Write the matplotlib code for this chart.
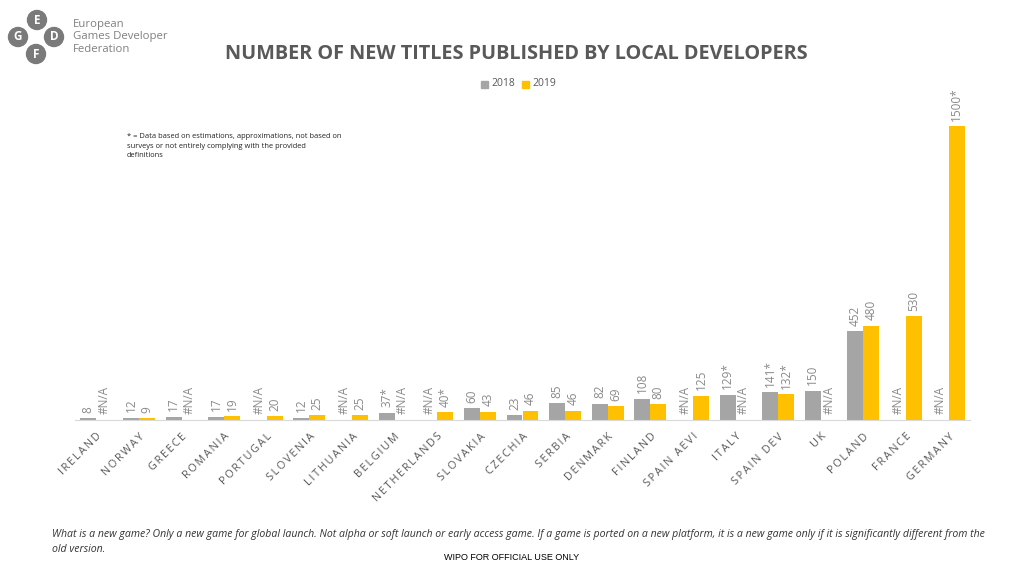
import matplotlib.pyplot as plt
from matplotlib.patches import Circle
import numpy as np

countries = ['IRELAND', 'NORWAY', 'GREECE', 'ROMANIA', 'PORTUGAL', 'SLOVENIA',
             'LITHUANIA', 'BELGIUM', 'NETHERLANDS', 'SLOVAKIA', 'CZECHIA', 'SERBIA',
             'DENMARK', 'FINLAND', 'SPAIN AEVI', 'ITALY', 'SPAIN DEV', 'UK',
             'POLAND', 'FRANCE', 'GERMANY']
# None = #N/A
titles_2018 = [8, 12, 17, 17, None, 12, None, 37, None, 60, 23, 85,
               82, 108, None, 129, 141, 150, 452, None, None]
titles_2019 = [None, 9, None, 19, 20, 25, 25, None, 40, 43, 46, 46,
               69, 80, 125, None, 132, None, 480, 530, 1500]
# values marked with * (estimations)
est_2018 = ['BELGIUM', 'ITALY', 'SPAIN DEV']
est_2019 = ['NETHERLANDS', 'SPAIN DEV', 'GERMANY']

GRAY = '#A5A5A5'
YELLOW = '#FFC000'
LBL = '#8A8A8A'

plt.rcParams['font.family'] = ['Open Sans', 'DejaVu Sans']

fig = plt.figure(figsize=(10.24, 5.76), dpi=100)
ax = fig.add_axes([75 / 1024, 1 - 420 / 576, 895 / 1024, 333 / 576])

x = np.arange(len(countries))
w = 0.375


def draw(vals, est, off, color):
    h = [v if v is not None else 0 for v in vals]
    ax.bar(x + off, h, width=w, color=color, zorder=2)
    for i, v in enumerate(vals):
        if v is None:
            s = '#N/A'
            y = 0
        else:
            s = str(v) + ('*' if countries[i] in est else '')
            y = v
        ax.annotate(s, (x[i] + off, y), xytext=(0, 4), textcoords='offset points',
                    rotation=90, ha='center', va='bottom', fontsize=8.5, color=LBL)


draw(titles_2018, est_2018, -w / 2, GRAY)
draw(titles_2019, est_2019, w / 2, YELLOW)

ax.set_xlim(-0.5, len(countries) - 0.5)
ax.set_ylim(0, 1700)
for s in ['top', 'right', 'left']:
    ax.spines[s].set_visible(False)
ax.spines['bottom'].set_color('#D9D9D9')
ax.set_yticks([])
ax.set_xticks(x)
ax.set_xticklabels(['\u2009'.join(c) for c in countries], rotation=45, ha='right',
                   rotation_mode='anchor', fontsize=7.8, color='#595959')
ax.tick_params(axis='x', length=0, pad=8)

fig.text(0.504, 1 - 54 / 576, 'NUMBER OF NEW TITLES PUBLISHED BY LOCAL DEVELOPERS',
         ha='center', va='center', fontsize=14.3, fontweight='bold', color='#595959')

# legend
fig.patches.append(plt.Rectangle((481 / 1024, 1 - 88 / 576), 7 / 1024, 7 / 576,
                                 transform=fig.transFigure, color=GRAY))
fig.text(491 / 1024, 1 - 84 / 576, '2018', va='center', fontsize=7.5, color='#595959')
fig.patches.append(plt.Rectangle((522 / 1024, 1 - 88 / 576), 7 / 1024, 7 / 576,
                                 transform=fig.transFigure, color=YELLOW))
fig.text(532 / 1024, 1 - 84 / 576, '2019', va='center', fontsize=7.5, color='#595959')

fig.text(127 / 1024, 1 - 133 / 576,
         '* = Data based on estimations, approximations, not based on\n'
         'surveys or not entirely complying with the provided\ndefinitions',
         va='top', fontsize=5.4, color='#222222', linespacing=1.5)

# logo
for cx, cy, letter in [(37, 20, 'E'), (18, 37, 'G'), (54, 37, 'D'), (36, 54, 'F')]:
    fig.patches.append(Circle((cx / 100, (576 - cy) / 100), 0.095,
                              transform=fig.dpi_scale_trans, color='#7A7A7A'))
    fig.text(cx / 1024, 1 - cy / 576, letter, ha='center', va='center', fontsize=8.5,
             fontweight='bold', color='white')
fig.text(73 / 1024, 1 - 37 / 576, 'European\nGames Developer\nFederation', va='center',
         fontsize=8.2, color='#808080', linespacing=1.15)

fig.text(52 / 1024, 1 - 535 / 576,
         'What is a new game? Only a new game for global launch. Not alpha or soft launch or '
         'early access game. If a game is ported on a new platform, it is a new game only if '
         'it is significantly different from the', va='center', fontsize=7.6,
         style='italic', color='#333333')
fig.text(52 / 1024, 1 - 549 / 576, 'old version.', va='center', fontsize=7.6,
         style='italic', color='#333333')
fig.text(512 / 1024, 1 - 558 / 576, 'WIPO FOR OFFICIAL USE ONLY', ha='center', va='center',
         fontsize=6.5, family='Liberation Sans', color='#000000')

fig.savefig('out.png', dpi=100)
